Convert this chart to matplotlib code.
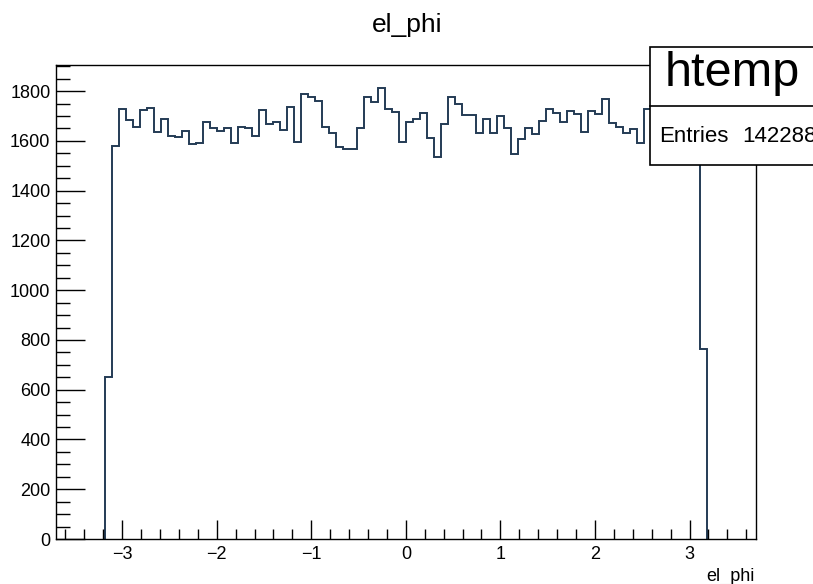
import numpy as np
import matplotlib
matplotlib.use("Agg")
import matplotlib.pyplot as plt
from matplotlib.ticker import MultipleLocator
from matplotlib.patches import Rectangle
from matplotlib.lines import Line2D

plt.rcParams['font.family'] = ['Liberation Sans', 'DejaVu Sans']

# ---- data ----
x_min, x_max, n_bins = -3.70, 3.70, 100
zeros_low = [0, 0, 0, 0, 0, 0, 0]
filled = [650, 1580, 1730, 1683, 1655, 1723, 1733, 1636, 1687, 1619,
          1614, 1639, 1587, 1592, 1675, 1653, 1640, 1650, 1590, 1655,
          1650, 1620, 1723, 1666, 1674, 1643, 1737, 1596, 1788, 1775,
          1760, 1657, 1630, 1576, 1567, 1567, 1650, 1777, 1757, 1811,
          1727, 1717, 1596, 1677, 1686, 1714, 1610, 1536, 1667, 1775,
          1747, 1706, 1703, 1633, 1687, 1630, 1699, 1650, 1547, 1606,
          1653, 1626, 1678, 1727, 1714, 1674, 1720, 1710, 1636, 1721,
          1710, 1770, 1670, 1657, 1630, 1646, 1590, 1730, 1690, 1705,
          1665, 1700, 1680, 1715, 1660, 763]
zeros_high = [0, 0, 0, 0, 0, 0, 0]
counts = zeros_low + filled + zeros_high
title = "el_phi"
xlabel = "el_phi"
hist_name = "htemp"
entries = "142288"

W, H = 813, 584
def fx(px):
    return px / W
def fy(py):
    return 1 - py / H

fig = plt.figure(figsize=(W / 100, H / 100), dpi=100)
fig.patch.set_facecolor('white')
ax = fig.add_axes([fx(56), fy(539), (755.7 - 56) / W, (539 - 65) / H])

edges = np.linspace(x_min, x_max, n_bins + 1)
cnt = np.array(counts, dtype=float)
nz = np.nonzero(cnt)[0]
i0, i1 = nz[0], nz[-1] + 1
ax.stairs(cnt[i0:i1], edges[i0:i1 + 1], color='#243b55', lw=1.4, zorder=1)

ax.set_xlim(x_min, x_max)
ax.set_ylim(0, 1905)

ax.xaxis.set_major_locator(MultipleLocator(1))
ax.xaxis.set_minor_locator(MultipleLocator(0.2))
ax.yaxis.set_major_locator(MultipleLocator(200))
ax.yaxis.set_minor_locator(MultipleLocator(50))

ax.tick_params(axis='x', which='major', direction='in', length=14, width=1.0,
               labelsize=13, pad=5, top=False)
ax.tick_params(axis='x', which='minor', direction='in', length=7, width=1.0, top=False)
ax.tick_params(axis='y', which='major', direction='in', length=21, width=1.0,
               labelsize=13, pad=4, right=False)
ax.tick_params(axis='y', which='minor', direction='in', length=10, width=1.0, right=False)

for s in ax.spines.values():
    s.set_linewidth(1.0)
    s.set_color('black')
    s.set_zorder(3)

fig.text(fx(407), fy(25), title, ha='center', va='center', fontsize=19)
fig.text(fx(755), fy(576), xlabel, ha='right', va='center', fontsize=13)

# stats box
box = Rectangle((fx(650), fy(165)), (840 - 650) / W, (165 - 47) / H,
                transform=fig.transFigure, facecolor='white',
                edgecolor='black', lw=1.2, zorder=10)
fig.add_artist(box)
div = Line2D([fx(650), fx(840)], [fy(106), fy(106)], transform=fig.transFigure,
             color='black', lw=1.2, zorder=11)
fig.add_artist(div)
fig.text(fx(665), fy(86), hist_name, ha='left', va='baseline', fontsize=35, zorder=12)
fig.text(fx(659), fy(142), "Entries", ha='left', va='baseline', fontsize=16, zorder=12)
fig.text(fx(742), fy(142), entries, ha='left', va='baseline', fontsize=16, zorder=12)

fig.savefig("out.png", dpi=100)
